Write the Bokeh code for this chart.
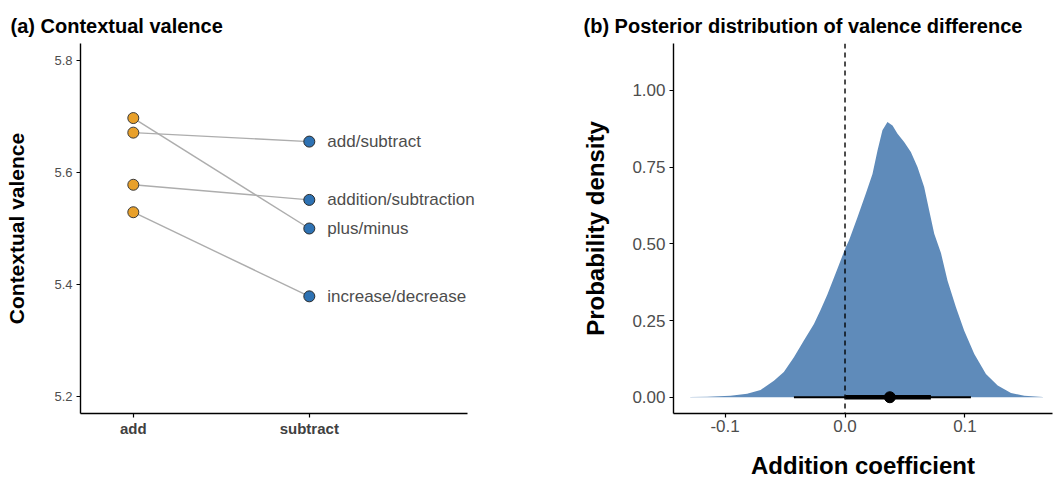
from bokeh.plotting import figure
from bokeh.layouts import row
from bokeh.models import Range1d, FixedTicker, Span, Label
from bokeh.embed import file_html
from bokeh.resources import INLINE

FONT = "Liberation Sans"

# ---- Panel (a) data ----
groups = ["add", "subtract"]
pair_labels = ["add/subtract", "addition/subtraction", "plus/minus", "increase/decrease"]
add_vals = [5.671, 5.578, 5.697, 5.529]
sub_vals = [5.655, 5.551, 5.500, 5.379]
a_yticks = [5.2, 5.4, 5.6, 5.8]

# ---- Panel (b) data ----
dens_x = [-0.129, -0.115, -0.0955, -0.0816, -0.0704, -0.0593, -0.051, -0.0426, -0.0343,
          -0.0259, -0.0203, -0.0147, -0.0064, 0.0006, 0.0033, 0.0104, 0.0173, 0.0229,
          0.0271, 0.0312, 0.0354, 0.0396, 0.0438, 0.0493, 0.0549, 0.0605, 0.066, 0.0702,
          0.0744, 0.080, 0.0855, 0.0925, 0.0994, 0.1078, 0.1175, 0.1273, 0.1384, 0.1495,
          0.165]
dens_y = [0.001, 0.002, 0.005, 0.011, 0.024, 0.054, 0.082, 0.130, 0.185,
          0.239, 0.285, 0.335, 0.418, 0.489, 0.511, 0.587, 0.663, 0.728,
          0.804, 0.870, 0.897, 0.886, 0.859, 0.832, 0.799, 0.750, 0.685, 0.609,
          0.533, 0.470, 0.380, 0.293, 0.217, 0.141, 0.076, 0.038, 0.014, 0.0045,
          0.001]
point_est = 0.0374
inner_int = [0.0003, 0.0716]
outer_int = [-0.0426, 0.105]
b_yticks = [0.0, 0.25, 0.5, 0.75, 1.0]
b_ytick_labels = ["0.00", "0.25", "0.50", "0.75", "1.00"]
b_xticks = [-0.1, 0.0, 0.1]
b_xtick_labels = ["-0.1", "0.0", "0.1"]


def style_axes(p, tick_size, tick_color):
    for ax in (p.xaxis[0], p.yaxis[0]):
        ax.axis_line_color = "black"
        ax.axis_line_width = 1.4
        ax.major_tick_line_color = "black"
        ax.major_tick_line_width = 1.2
        ax.major_tick_out = 4
        ax.major_tick_in = 0
        ax.minor_tick_line_color = None
        ax.major_label_text_font = FONT
        ax.major_label_text_font_size = tick_size
        ax.major_label_text_color = tick_color
        ax.axis_label_text_font = FONT
        ax.axis_label_text_font_style = "bold"
        ax.axis_label_text_color = "black"
        ax.major_label_standoff = 4
    p.grid.visible = False
    p.outline_line_color = None
    p.background_fill_color = "white"
    p.border_fill_color = "white"


def style_title(p, offset):
    p.title.text_font = FONT
    p.title.text_font_size = "20px"
    p.title.text_font_style = "bold"
    p.title.text_color = "black"
    p.title.align = "left"
    p.title.offset = offset
    p.title.standoff = 13


# ================= Panel (a) =================
# frame extends a little past the axis end so the longest label is not clipped
pa = figure(width=540, height=482, output_backend="svg", toolbar_location=None,
            x_range=Range1d(0.70, 2.95), y_range=Range1d(5.17, 5.83),
            min_border_left=80, min_border_right=64, min_border_top=43, min_border_bottom=69,
            title="(a) Contextual valence")
style_axes(pa, "13px", "#4d4d4d")
style_title(pa, -70)
pa.xaxis.bounds = (0.70, 2.90)

xs_add = [1] * len(add_vals)
xs_sub = [2] * len(sub_vals)
pa.segment(x0=xs_add, y0=add_vals, x1=xs_sub, y1=sub_vals, line_color="#adadad", line_width=1.4)
pa.scatter(x=xs_add, y=add_vals, size=11, fill_color="#e8a02a", line_color="#3a3a3a", line_width=1)
pa.scatter(x=xs_sub, y=sub_vals, size=11, fill_color="#2e72b3", line_color="#2a2a2a", line_width=1)
for xv, yv, lab in zip(xs_sub, sub_vals, pair_labels):
    pa.add_layout(Label(x=xv, y=yv, text=lab, x_offset=18, text_baseline="middle",
                        text_align="left", text_font=FONT, text_font_size="17px",
                        text_color="#4d4d4d"))

pa.xaxis.ticker = FixedTicker(ticks=[1, 2])
pa.xaxis.major_label_overrides = {1: groups[0], 2: groups[1]}
pa.xaxis.major_label_text_font_style = "bold"
pa.xaxis.major_label_text_font_size = "15px"
pa.xaxis.major_label_text_color = "#404040"
pa.xaxis.major_label_standoff = 2
pa.yaxis.ticker = FixedTicker(ticks=a_yticks)
pa.yaxis.axis_label = "Contextual valence"
pa.yaxis.axis_label_text_font_size = "21px"
pa.yaxis.axis_label_standoff = 23

# ================= Panel (b) =================
pb = figure(width=517, height=482, output_backend="svg", toolbar_location=None,
            x_range=Range1d(-0.143, 0.173), y_range=Range1d(-0.053, 1.153),
            min_border_left=133, min_border_right=5, min_border_top=43, min_border_bottom=69,
            title="(b) Posterior distribution of valence difference")
style_axes(pb, "17px", "#4d4d4d")
style_title(pb, -90)

pb.varea(x=dens_x, y1=[0] * len(dens_x), y2=dens_y, fill_color="#5f8bba")
pb.add_layout(Span(location=0, dimension="height", line_color="black",
                   line_dash="5 4", line_width=1.4))
pb.segment(x0=[outer_int[0]], x1=[outer_int[1]], y0=[0], y1=[0], line_color="black", line_width=2)
pb.segment(x0=[inner_int[0]], x1=[inner_int[1]], y0=[0], y1=[0], line_color="black", line_width=4.5)
pb.scatter(x=[point_est], y=[0], size=11, fill_color="black", line_color="black")

pb.xaxis.ticker = FixedTicker(ticks=b_xticks)
pb.xaxis.major_label_overrides = {t: l for t, l in zip(b_xticks, b_xtick_labels)}
pb.yaxis.ticker = FixedTicker(ticks=b_yticks)
pb.yaxis.major_label_overrides = {t: l for t, l in zip(b_yticks, b_ytick_labels)}
pb.xaxis.major_label_standoff = 2
pb.xaxis.axis_label = "Addition coefficient"
pb.xaxis.axis_label_text_font_size = "24px"
pb.xaxis.axis_label_standoff = 17
pb.yaxis.axis_label = "Probability density"
pb.yaxis.axis_label_text_font_size = "24px"
pb.yaxis.axis_label_standoff = 20

layout = row(pa, pb)
open("out.html", "w").write(file_html(layout, INLINE))
